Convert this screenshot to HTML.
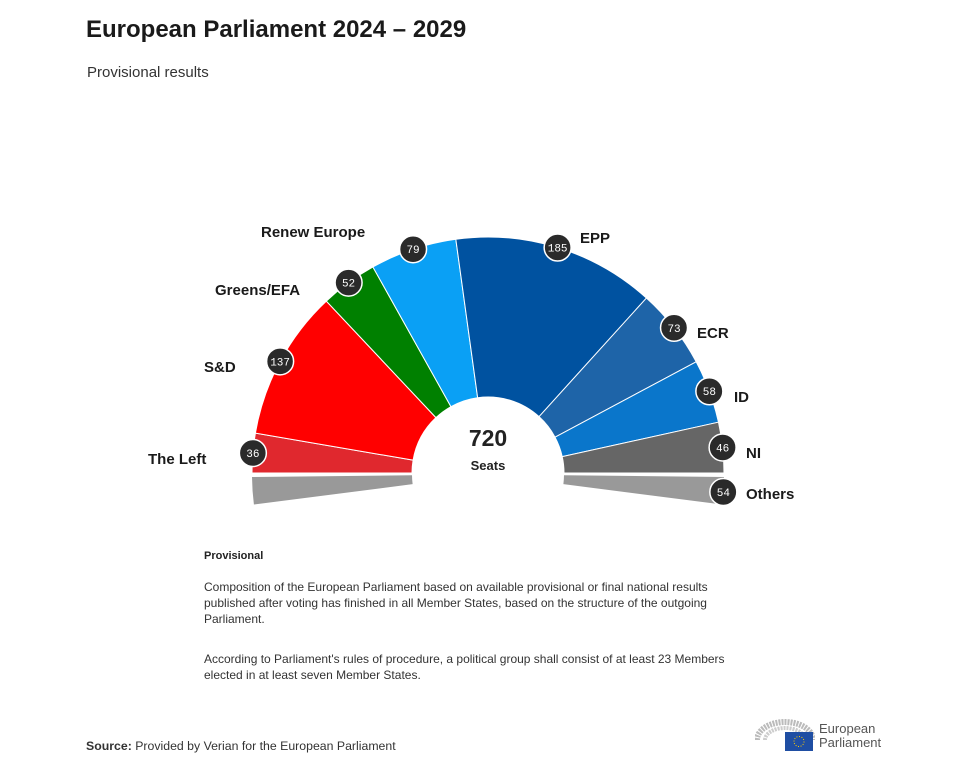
<!DOCTYPE html>
<html><head><meta charset="utf-8"><style>
body{margin:0;background:#fff;width:960px;height:759px;overflow:hidden;font-family:"Liberation Sans",sans-serif;color:#222}
.t{position:absolute;white-space:nowrap}
</style></head><body>
<div class="t" style="left:86px;top:16px;font-size:24px;font-weight:bold;color:#1a1a1a">European Parliament 2024 – 2029</div>
<div class="t" style="left:87px;top:64px;font-size:15px;color:#333">Provisional results</div>
<svg id="chart" width="960" height="759" style="position:absolute;left:0;top:0"></svg>
<div class="t" style="left:204px;top:550px;font-size:11px;font-weight:bold">Provisional</div>
<div class="t" style="left:204px;top:579px;font-size:12px;line-height:16px;color:#333">Composition of the European Parliament based on available provisional or final national results<br>published after voting has finished in all Member States, based on the structure of the outgoing<br>Parliament.</div>
<div class="t" style="left:204px;top:651px;font-size:12px;line-height:16px;color:#333">According to Parliament's rules of procedure, a political group shall consist of at least 23 Members<br>elected in at least seven Member States.</div>
<div class="t" style="left:86px;top:739px;font-size:12.3px;color:#333"><b>Source:</b> Provided by Verian for the European Parliament</div>
<div style="position:absolute;left:755px;top:718px;width:140px;height:36px">
<svg width="60" height="36" style="position:absolute;left:0;top:0"><path d="M2 22 A28 18 0 0 1 58 22" fill="none" stroke="#bbb" stroke-width="6" stroke-dasharray="2 1"/><path d="M10 22 A20 12 0 0 1 50 22" fill="none" stroke="#ccc" stroke-width="4" stroke-dasharray="2 1"/><rect x="30" y="14" width="28" height="19" fill="#1f4ea3"/><circle cx="44" cy="23.5" r="5" fill="none" stroke="#fc0" stroke-width="1" stroke-dasharray="1 1.6"/></svg>
<div class="t" style="left:64px;top:4px;font-size:13px;line-height:14px;color:#555">European<br>Parliament</div>
</div>
<script>
const parties=["The Left","S&D","Greens/EFA","Renew Europe","EPP","ECR","ID","NI"];
const seats=[36,137,52,79,185,73,58,46];
const others=54;
const colors=["#e0282e","#ff0000","#008000","#0aa0f5","#0052a0","#1e64a8","#0a76cb","#666666"];
const total=720;
const svg=document.getElementById('chart');
const NS="http://www.w3.org/2000/svg";
const cx=488,cy=473,r0=76,r1=236;
const mainTotal=seats.reduce((a,b)=>a+b,0);
const k=180/mainTotal;
function pt(r,deg){const a=deg*Math.PI/180;return [cx+r*Math.cos(a),cy-r*Math.sin(a)];}
function wedge(a0,a1,dy){
 const p1=pt(r1,a0),p2=pt(r1,a1),p3=pt(r0,a1),p4=pt(r0,a0);
 const lg=Math.abs(a0-a1)>180?1:0;
 return `M${p1[0]},${p1[1]+dy} A${r1},${r1} 0 ${lg} 1 ${p2[0]},${p2[1]+dy} L${p3[0]},${p3[1]+dy} A${r0},${r0} 0 ${lg} 0 ${p4[0]},${p4[1]+dy}Z`;
}
function add(tag,attrs){const e=document.createElementNS(NS,tag);for(const a in attrs)e.setAttribute(a,attrs[a]);svg.appendChild(e);return e;}
function badge(x,y,v,name){
 const c=add('circle',{cx:x,cy:y,r:13.5,fill:'#2a2a2a',stroke:'#fff','stroke-width':1.5});
 
 
 const t=add('text',{x:x,y:y+4,'text-anchor':'middle','font-size':11,fill:'#fff','font-family':'Liberation Mono, monospace'});
 t.textContent=v;
 
 
}
const half=others/2*k;
let p=add('path',{d:wedge(180+half,180+0.6,1.5),fill:'#999',stroke:'none'});


let cum=0;
const slugs=["the-left","s-and-d","greens-efa","renew-europe","epp","ecr","id","ni"];
seats.forEach((s,i)=>{
 const a0=180-cum*k,a1=180-(cum+s)*k;
 const e=add('path',{d:wedge(a0,a1,0),fill:colors[i],stroke:'#fff','stroke-width':1});
 
 
 cum+=s;
});
p=add('path',{d:wedge(-0.6,-half,1.5),fill:'#999',stroke:'none'});


cum=0;
seats.forEach((s,i)=>{
 const m=180-(cum+s/2)*k;const q=pt(r1,m);
 badge(q[0],q[1],s,slugs[i]);cum+=s;
});
const qo=pt(r1,-half/2-0.6);badge(qo[0],qo[1]+1.5,others,'others');
const labels=[["The Left",148,464],["S&D",204,372],["Greens/EFA",215,295],["Renew Europe",261,237],["EPP",580,243],["ECR",697,338],["ID",734,402],["NI",746,458],["Others",746,499]];
labels.forEach(l=>{
 const t=add('text',{x:l[1],y:l[2],'font-size':15,'font-weight':'bold',fill:'#1a1a1a'});
 t.textContent=l[0];
 
 
});
let t=add('text',{x:cx,y:446,'text-anchor':'middle','font-size':23,'font-weight':'bold',fill:'#222'});
t.textContent=total;


t=add('text',{x:cx,y:470,'text-anchor':'middle','font-size':13,'font-weight':'bold',fill:'#222'});
t.textContent='Seats';


</script>
</body></html>
